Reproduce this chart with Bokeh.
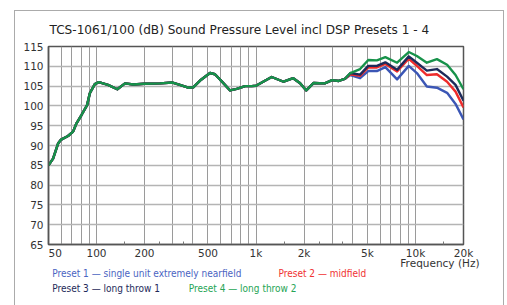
from bokeh.plotting import figure
from bokeh.models import Range1d, FixedTicker, Label
from bokeh.embed import file_html
from bokeh.resources import INLINE

# ---------------- data ----------------
title_text = "TCS-1061/100 (dB) Sound Pressure Level incl DSP Presets 1 - 4"
x_axis_title = "Frequency (Hz)"

x_tick_values = [50, 100, 200, 500, 1000, 2000, 5000, 10000, 20000]
x_tick_labels = ["50", "100", "200", "500", "1k", "2k", "5k", "10k", "20k"]
x_grid_values = [60, 70, 80, 90, 100, 200, 300, 400, 500, 600, 700, 800, 900,
                 1000, 2000, 3000, 4000, 5000, 6000, 7000, 8000, 9000, 10000]
x_minor_ticks = [150, 250, 350, 1500, 2500, 3500, 15000]
y_tick_values = [65, 70, 75, 80, 85, 90, 95, 100, 105, 110, 115]

# response shared by all presets (up to ~3.6 kHz)
freq_common = [50, 53.4, 57.4, 60, 66.3, 71.3, 74.9, 80.5, 87.3, 90.8, 97.6, 103.4,
               118, 135, 151, 170, 200, 250, 300, 333, 376, 404, 446, 515, 553,
               610, 688, 757, 855, 940, 1000, 1130, 1254, 1489, 1712, 1891, 2067,
               2300, 2700, 3000, 3300, 3600]
spl_common = [85.0, 86.7, 90.5, 91.5, 92.4, 93.5, 95.6, 97.7, 100.2, 103.2, 105.5, 106.0,
              105.3, 104.2, 105.7, 105.4, 105.6, 105.7, 105.9, 105.3, 104.6, 104.7, 106.4, 108.3, 108.0,
              106.2, 103.9, 104.3, 105.0, 105.0, 105.1, 106.3, 107.3, 106.1, 107.0, 105.7, 103.9,
              105.8, 105.7, 106.5, 106.3, 106.8]

# high-frequency part, different for each preset
freq_hf = [3906, 4493, 5057, 5729, 6470, 7668, 9075, 10203, 11780, 13630, 15780, 17830, 20000]
preset1_hf = [107.8, 107.0, 108.8, 108.8, 109.8, 106.7, 110.1, 108.3, 104.9, 104.6, 103.3, 100.5, 96.6]
preset2_hf = [108.0, 107.6, 109.7, 109.7, 110.6, 108.7, 111.9, 110.1, 107.8, 108.0, 106.1, 103.6, 99.6]
preset3_hf = [108.3, 107.9, 110.1, 110.1, 111.0, 109.1, 112.5, 110.9, 108.9, 109.3, 107.4, 105.3, 101.3]
preset4_hf = [108.3, 109.3, 111.6, 111.5, 112.3, 110.9, 113.6, 112.6, 110.9, 111.8, 110.4, 107.8, 104.2]

preset_names = ["Preset 1 \u2014 single unit extremely nearfield",
                "Preset 2 \u2014 midfield",
                "Preset 3 \u2014 long throw 1",
                "Preset 4 \u2014 long throw 2"]
line_colors = ["#3b56b5", "#ee2b2b", "#1e2a5a", "#17924a"]
text_colors = ["#4a64c2", "#f03232", "#1e2a5a", "#26a455"]

# ---------------- figure ----------------
W, H = 507, 305
p = figure(width=W, height=H, x_axis_type="log",
           x_range=Range1d(50, 20000), y_range=Range1d(65, 115),
           output_backend="svg", toolbar_location=None,
           min_border_left=48, min_border_right=44,
           min_border_top=46, min_border_bottom=61)
p.background_fill_color = "white"
p.border_fill_alpha = 0
p.outline_line_color = "#555555"
p.outline_line_width = 1.5
# light grey outer frame around the chart (page background behind the canvas)
p.styles = {
    "background-color": "white",
    "background-image": ("linear-gradient(#ababab,#ababab),"
                         "linear-gradient(#ababab,#ababab),"
                         "linear-gradient(#ababab,#ababab)"),
    "background-size": "1px 300px, 490px 1px, 1px 300px",
    "background-position": "14px 10px, 14px 10px, 503px 10px",
    "background-repeat": "no-repeat",
}

# grids
p.xgrid.ticker = FixedTicker(ticks=x_grid_values)
p.xgrid.grid_line_color = "#9a9a9a"
p.xgrid.grid_line_width = 1
p.ygrid.ticker = FixedTicker(ticks=y_tick_values)
p.ygrid.grid_line_color = "#b4b4b4"
p.ygrid.grid_line_width = 1.3

# axes
for ax in (p.xaxis[0], p.yaxis[0]):
    ax.axis_line_color = "#555555"
    ax.axis_line_width = 1.5
    ax.major_tick_in = 0
    ax.major_tick_out = 0
    ax.minor_tick_out = 0
    ax.major_label_text_font = "DejaVu Sans"
    ax.major_label_text_font_size = "10.5px"
    ax.major_label_text_color = "#333333"

p.xaxis.ticker = FixedTicker(ticks=x_tick_values, minor_ticks=x_minor_ticks)
p.xaxis.minor_tick_in = 3
p.xaxis.minor_tick_line_color = "#777777"
overrides = {v: t for v, t in zip(x_tick_values, x_tick_labels)}
# first label sits just inside the left edge, as in the original
overrides[x_tick_values[0]] = "\u00a0" * 4 + x_tick_labels[0]
p.xaxis.major_label_overrides = overrides
p.xaxis.major_label_standoff = 2

p.yaxis.ticker = FixedTicker(ticks=y_tick_values)
p.yaxis.minor_tick_in = 0
p.yaxis.major_label_standoff = 5

# curves
hf_sets = [preset1_hf, preset2_hf, preset3_hf, preset4_hf]
for name, hf, col in zip(preset_names, hf_sets, line_colors):
    p.line(freq_common + freq_hf, spl_common + hf, line_color=col, line_width=2.4,
           line_join="round")


def txt(text, x, y, color="#333333", align="left", size="10.5px", font="DejaVu Sans"):
    return Label(x=x, y=y, x_units="canvas", y_units="canvas", text=text,
                 text_align=align, text_baseline="middle", text_font=font,
                 text_font_size=size, text_color=color)


# title
p.add_layout(txt(title_text, 49, 29, color="#222222", size="12.1px"), "above")
# axis title
p.add_layout(txt(x_axis_title, 479, 262, align="right"), "below")

# legend text
legend_pos = [(51.7, 273), (278, 273), (51.7, 288), (188.3, 288)]
legend_panels = ["above", "above", "below", "below"]
for (lx, ly), name, col, side in zip(legend_pos, preset_names, text_colors, legend_panels):
    p.add_layout(txt(name, lx, ly, color=col, size="10px",
                     font="DejaVu Sans Condensed"), side)

open("out.html", "w").write(file_html(p, INLINE))
